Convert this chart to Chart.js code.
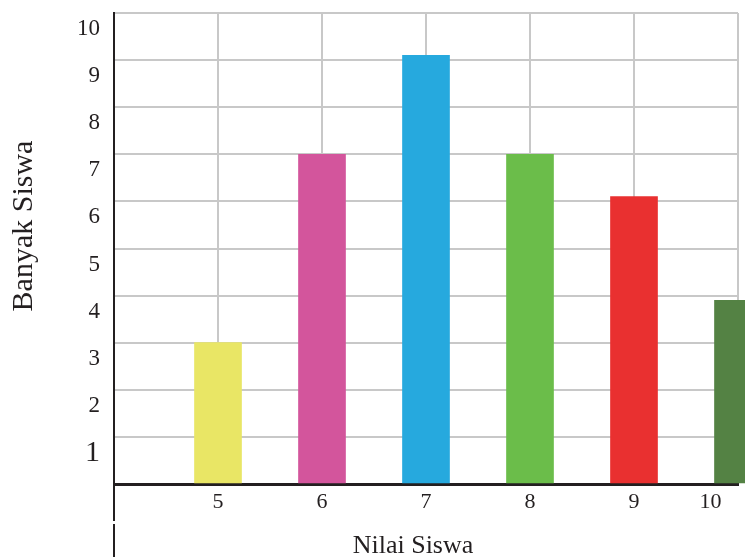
<!DOCTYPE html>
<html>
<head>
<meta charset="utf-8">
<script src="https://cdn.jsdelivr.net/npm/chart.js@4.4.1/dist/chart.umd.min.js"></script>
<style>
  html, body { margin: 0; padding: 0; background: #fff; }
  #wrap { width: 745px; height: 557px; }
</style>
</head>
<body>
<div id="wrap"><canvas id="nilai-chart" width="745" height="557"></canvas></div>
<script>
// data
const nilaiLabels = ['', '5', '6', '7', '8', '9', '10'];
const banyakSiswa = [null, 3, 7, 9.1, 7, 6.1, 3.9];
const barColors = ['#ffffff', '#E9E665', '#D3559C', '#26A9DE', '#6BBD4A', '#E93030', '#548244'];
const yTicks = [1, 2, 3, 4, 5, 6, 7, 8, 9, 10];

const ink = '#231f20';
const serif = '"Liberation Serif", "DejaVu Serif", serif';

// y axis keeps going below the x axis, with a small break
const axisTail = {
    id: 'axisTail',
    afterDraw(chart) {
        const c = chart.ctx;
        const x = chart.chartArea.left;
        c.save();
        c.strokeStyle = ink;
        c.lineWidth = 2;
        c.beginPath();
        c.moveTo(x, chart.chartArea.bottom);
        c.lineTo(x, 521);
        c.moveTo(x, 524);
        c.lineTo(x, chart.height);
        c.stroke();
        c.restore();
    }
};

const ctx = document.getElementById('nilai-chart').getContext('2d');
new Chart(ctx, {
    type: 'bar',
    data: {
        labels: nilaiLabels,
        datasets: [{
            data: banyakSiswa,
            backgroundColor: barColors,
            borderWidth: 0,
            barThickness: 47,
            clip: { left: 0, top: 0, right: 10, bottom: 0 }
        }]
    },
    options: {
        responsive: false,
        animation: false,
        layout: { padding: { top: 13, right: 7, left: 0, bottom: 0 } },
        plugins: {
            legend: { display: false },
            tooltip: { enabled: false }
        },
        scales: {
            x: {
                offset: false,
                grid: {
                    offset: false,
                    color: ctx => ctx.index === 0 ? 'rgba(0,0,0,0)' : '#c8c8c8',
                    lineWidth: 2,
                    drawTicks: false
                },
                border: { color: ink, width: 3 },
                ticks: {
                    color: ink,
                    font: { family: serif, size: 22 },
                    padding: 5,
                    maxRotation: 0,
                    autoSkip: false,
                    // last label sits left of its gridline in the original
                    callback: function(v, i) {
                        const lab = this.getLabelForValue(v);
                        return i === nilaiLabels.length - 1 ? lab + '          ' : lab;
                    }
                },
                title: {
                    display: true,
                    text: 'Nilai Siswa    ',
                    color: ink,
                    font: { family: serif, size: 26 },
                    padding: { top: 0, bottom: -5 }
                },
                afterFit: scale => {
                    scale.height = 73;
                    scale.paddingLeft = 0;
                    scale.paddingRight = 0;
                }
            },
            y: {
                min: 0,
                max: 10,
                afterBuildTicks: scale => {
                    scale.ticks = [0].concat(yTicks).map(v => ({ value: v }));
                },
                grid: {
                    color: '#c8c8c8',
                    lineWidth: 2,
                    drawTicks: false
                },
                border: { color: ink, width: 2 },
                ticks: {
                    color: ink,
                    padding: 14,
                    labelOffset: 16,
                    font: c => ({ family: serif, size: c.tick && c.tick.value === 1 ? 30 : 23 }),
                    callback: v => v === 0 ? '' : String(v)
                },
                title: {
                    display: true,
                    text: '      Banyak Siswa',
                    color: ink,
                    font: { family: serif, size: 30 },
                    padding: { top: 6, bottom: 4 }
                },
                afterFit: scale => {
                    scale.width = 114;
                    scale.paddingTop = 0;
                    scale.paddingBottom = 0;
                }
            }
        }
    },
    plugins: [axisTail]
});
</script>
</body>
</html>
